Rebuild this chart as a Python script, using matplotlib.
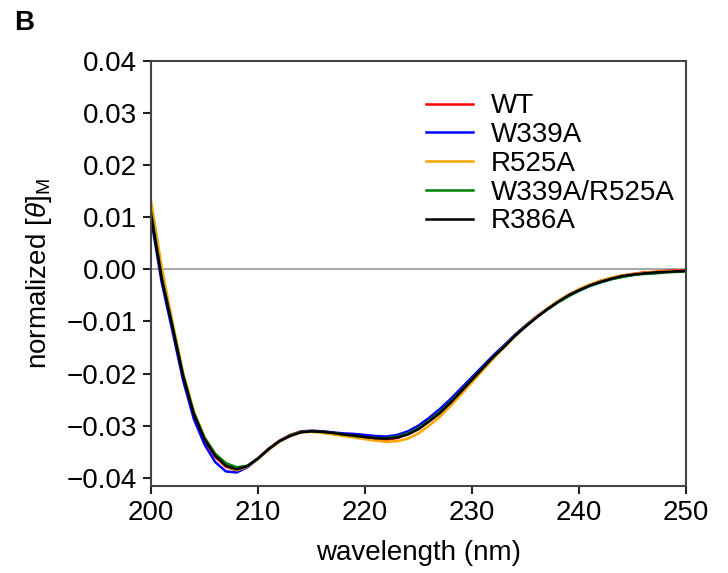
import matplotlib
matplotlib.use("Agg")
import matplotlib.pyplot as plt
import numpy as np

plt.rcParams['font.family'] = ['Liberation Sans', 'DejaVu Sans']
plt.rcParams['mathtext.fontset'] = 'custom'
plt.rcParams['mathtext.rm'] = 'Liberation Sans'
plt.rcParams['mathtext.it'] = 'Liberation Sans:italic'

wavelength = list(range(200, 251))

r386a = [0.0105, -0.0018, -0.0110, -0.0205, -0.0278, -0.0326, -0.0358, -0.0377, -0.0384, -0.0378,
         -0.0363, -0.0345, -0.0330, -0.0320, -0.0313, -0.0311, -0.0312, -0.0314, -0.0317, -0.0319,
         -0.0322, -0.0324, -0.0325, -0.0323, -0.0317, -0.0307, -0.0292, -0.0276, -0.0256, -0.0234,
         -0.0212, -0.0190, -0.0168, -0.0149, -0.0128, -0.0110, -0.0093, -0.0077, -0.0063, -0.0050,
         -0.0040, -0.0031, -0.0024, -0.0018, -0.0013, -0.0010, -0.0008, -0.0006, -0.0005, -0.0004,
         -0.0003]

wt = [0.0110, -0.0016, -0.0109, -0.0204, -0.0279, -0.0328, -0.0360, -0.0379, -0.0386, -0.0379,
      -0.0363, -0.0344, -0.0329, -0.0318, -0.0311, -0.0310, -0.0311, -0.0314, -0.0317, -0.0320,
      -0.0323, -0.0326, -0.0327, -0.0324, -0.0316, -0.0305, -0.0290, -0.0274, -0.0255, -0.0233,
      -0.0211, -0.0189, -0.0167, -0.0147, -0.0127, -0.0108, -0.0091, -0.0076, -0.0062, -0.0049,
      -0.0039, -0.0030, -0.0022, -0.0017, -0.0012, -0.0009, -0.0006, -0.0005, -0.0003, -0.0002,
      -0.0002]

w339a = [0.0098, -0.0025, -0.0118, -0.0213, -0.0287, -0.0336, -0.0370, -0.0388, -0.0390, -0.0380,
         -0.0364, -0.0346, -0.0330, -0.0319, -0.0312, -0.0310, -0.0311, -0.0313, -0.0315, -0.0316,
         -0.0318, -0.0320, -0.0321, -0.0318, -0.0311, -0.0300, -0.0285, -0.0268, -0.0249, -0.0228,
         -0.0207, -0.0186, -0.0165, -0.0146, -0.0126, -0.0108, -0.0092, -0.0077, -0.0063, -0.0051,
         -0.0041, -0.0032, -0.0025, -0.0019, -0.0014, -0.0011, -0.0008, -0.0007, -0.0005, -0.0004,
         -0.0003]

r525a = [0.0133, 0.0005, -0.0100, -0.0198, -0.0272, -0.0322, -0.0355, -0.0376, -0.0386, -0.0379,
         -0.0364, -0.0346, -0.0331, -0.0320, -0.0313, -0.0312, -0.0314, -0.0317, -0.0320, -0.0323,
         -0.0326, -0.0329, -0.0331, -0.0330, -0.0325, -0.0315, -0.0300, -0.0283, -0.0262, -0.0240,
         -0.0217, -0.0194, -0.0171, -0.0150, -0.0129, -0.0109, -0.0092, -0.0076, -0.0061, -0.0049,
         -0.0038, -0.0029, -0.0022, -0.0016, -0.0012, -0.0009, -0.0007, -0.0005, -0.0004, -0.0003,
         -0.0003]

w339a_r525a = [0.0112, -0.0014, -0.0107, -0.0202, -0.0275, -0.0323, -0.0354, -0.0372, -0.0380, -0.0377,
               -0.0363, -0.0345, -0.0330, -0.0319, -0.0312, -0.0311, -0.0312, -0.0314, -0.0317, -0.0320,
               -0.0322, -0.0324, -0.0324, -0.0321, -0.0315, -0.0305, -0.0290, -0.0274, -0.0254, -0.0233,
               -0.0211, -0.0189, -0.0168, -0.0148, -0.0128, -0.0110, -0.0093, -0.0078, -0.0064, -0.0052,
               -0.0041, -0.0032, -0.0025, -0.0019, -0.0015, -0.0011, -0.0009, -0.0008, -0.0006, -0.0005,
               -0.0004]

series = [("WT", wt, "red"),
          ("W339A", w339a, "blue"),
          ("R525A", r525a, "orange"),
          ("W339A/R525A", w339a_r525a, "green"),
          ("R386A", r386a, "black")]

fig = plt.figure(figsize=(7.28, 5.73), dpi=100)
ax = fig.add_axes([0.2074, 0.1518, 0.7349, 0.7417])

ax.axhline(0, color="#aaaaaa", lw=1.5, zorder=1)
for name, vals, col in series:
    ax.plot(wavelength, vals, color=col, lw=1.8, label=name, zorder=2)

ax.set_xlim(200, 250)
ax.set_ylim(-0.0416, 0.04)
ax.set_xticks([200, 210, 220, 230, 240, 250])
ax.set_yticks([-0.04, -0.03, -0.02, -0.01, 0.0, 0.01, 0.02, 0.03, 0.04])
ax.set_yticklabels(["\u22120.04", "\u22120.03", "\u22120.02", "\u22120.01", "0.00",
                    "0.01", "0.02", "0.03", "0.04"])
ax.tick_params(axis="both", labelsize=20, length=6, width=1.5, color="#222222", pad=4)
for sp in ax.spines.values():
    sp.set_color("#444444")
    sp.set_linewidth(1.5)

ax.set_xlabel("wavelength (nm)", fontsize=20, labelpad=10)
ax.set_ylabel(r"normalized $[\theta]_{\mathrm{M}}$", fontsize=20, labelpad=9.5)

leg = ax.legend(frameon=False, fontsize=20, loc="upper right",
                bbox_to_anchor=(1.0, 0.95), handlelength=1.7,
                handletextpad=0.65, labelspacing=0.1, borderaxespad=0.0)

fig.text(0.02, 0.947, "B", fontsize=20, fontweight="bold")

fig.savefig("out.png", dpi=100)
